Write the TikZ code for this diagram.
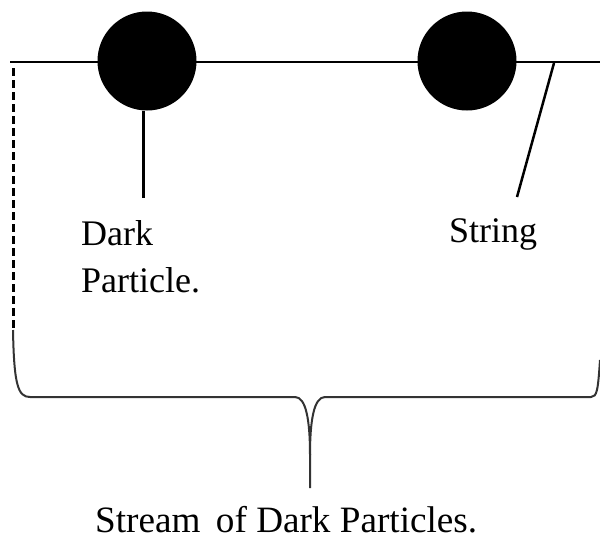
\documentclass[tikz,border=0pt]{standalone}
\usepackage{fontspec}
\setmainfont{Liberation Serif}
\begin{document}
\begin{tikzpicture}[x=1pt,y=-1pt,
  particle/.style={circle,fill=black,minimum size=99pt,inner sep=0pt},
  lbl/.style={anchor=base west,inner sep=0pt,font=\fontsize{36}{40}\selectfont},
  stick/.style={line width=3pt},
  bracepath/.style={line width=2pt,draw=black!80}]
\useasboundingbox (0,0) rectangle (600,542);
% main string line
\coordinate (L) at (10,62);
\coordinate (R) at (600,62);
\draw[line width=1.5pt] (L) -- (R);
% particles
\node[particle] (p1) at (147,61) {};
\node[particle] (p2) at (467,61) {};
% labels
\node[lbl] (dark) at (81,245) {Dark};
\node[lbl] (part) at (81,292) {Particle.};
\node[lbl] (str) at (449,242) {String};
\node[lbl] (stream) at (95,532) {\resizebox{382pt}{!}{Stream\, of Dark Particles.}};
% pointers
\coordinate (s1) at (143,198);
\draw[stick] (p1.south -| s1) -- (s1);
\coordinate (s2a) at (554,63);
\coordinate (s2b) at (517,197);
\draw[line width=2.5pt] (s2a) -- (s2b);
% dashed side
\coordinate (d1) at (13,68);
\coordinate (d2) at (13,330);
\draw[line width=3pt,dash pattern=on 8pt off 4pt] (d1) -- (d2);
% brace
\coordinate (tip) at (310,488);
\draw[bracepath] (d2) .. controls (14,385) and (18,397) .. (30,397) -- (295,397)
  .. controls (306,397) and (310,420) .. (310,455) -- (tip);
\draw[bracepath] (600,360) .. controls (598,390) and (597,397) .. (591,397) -- (325,397)
  .. controls (314,397) and (310,420) .. (310,455);
\end{tikzpicture}
\end{document}
